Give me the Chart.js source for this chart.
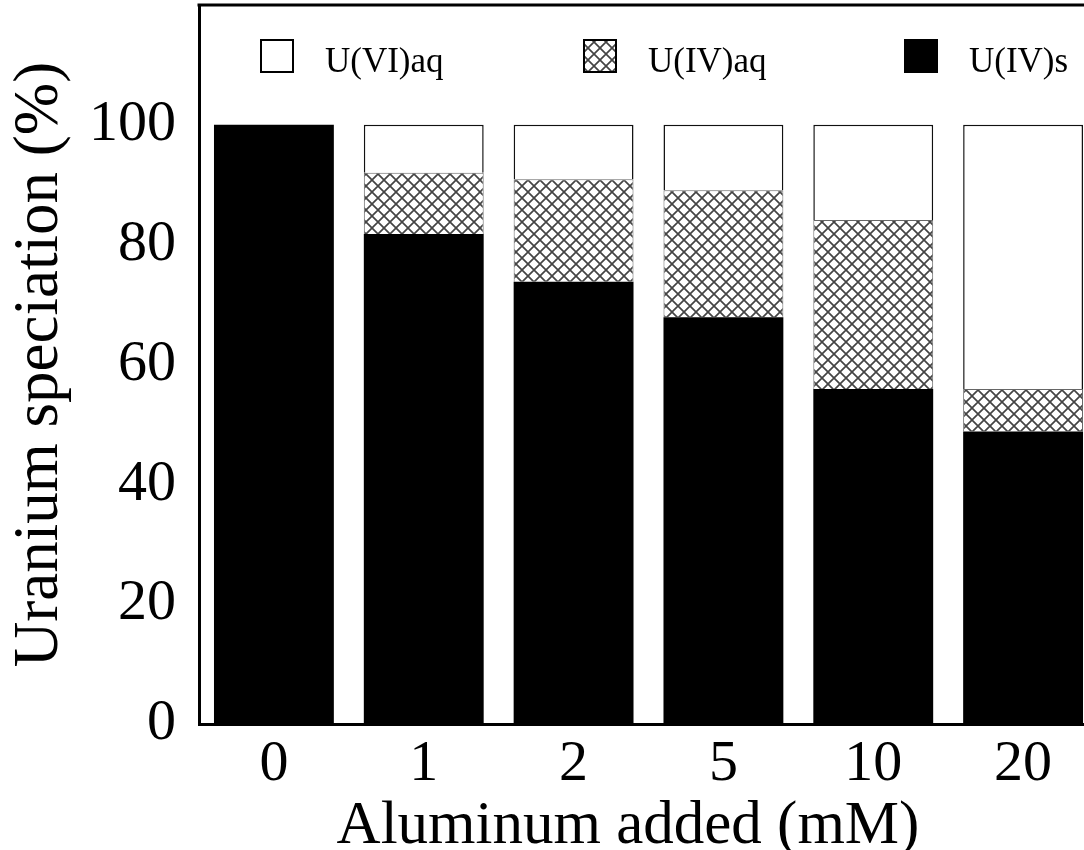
<!DOCTYPE html>
<html>
<head>
<meta charset="utf-8">
<script src="https://cdn.jsdelivr.net/npm/chart.js@4.4.1/dist/chart.umd.min.js"></script>
<style>
  html, body { margin: 0; padding: 0; background: #fff; overflow: hidden; }
  #wrap { width: 1100px; height: 850px; }
</style>
</head>
<body>
<div id="wrap"><canvas id="c" width="1100" height="850"></canvas></div>
<script>
// Aluminum added (mM) and uranium speciation (%) per treatment
const categories = ['0', '1', '2', '5', '10', '20'];
const uIVs  = [100, 81.8, 73.8, 67.9, 55.9, 48.8];
const uIVaq = [0, 10.2, 17.1, 21.2, 28.2, 7.1];
const uVIaq = [0, 8.0, 9.1, 10.9, 15.9, 44.1];
const yTicks = [0, 20, 40, 60, 80, 100];
const seriesNames = ['U(IV)s', 'U(IV)aq', 'U(VI)aq'];
const xTitle = 'Aluminum added (mM)';
const yTitle = 'Uranium speciation (%)';

const SERIF = '"Liberation Serif", "Times New Roman", serif';

// diagonal cross-hatch fill
function crossHatch() {
  const t = document.createElement('canvas');
  t.width = 12; t.height = 12;
  const g = t.getContext('2d');
  g.fillStyle = '#fff';
  g.fillRect(0, 0, 12, 12);
  g.strokeStyle = '#444';
  g.lineWidth = 1.7;
  g.beginPath();
  g.moveTo(0, 0); g.lineTo(12, 12);
  g.moveTo(12, 0); g.lineTo(0, 12);
  g.stroke();
  return g.createPattern(t, 'repeat');
}
const hatch = crossHatch();

// frame, in-plot legend and x-axis title
const decorations = {
  id: 'decorations',
  afterDraw(chart) {
    const { ctx, chartArea: a } = chart;
    ctx.save();
    ctx.strokeStyle = '#000';
    ctx.lineWidth = 3;
    ctx.beginPath();
    ctx.moveTo(a.left - 1.5, a.top);
    ctx.lineTo(a.right, a.top);
    ctx.lineTo(a.right, a.bottom);
    ctx.stroke();

    const offsets = [61, 384, 705];
    const ds = chart.data.datasets.slice().reverse();
    ds.forEach((d, i) => {
      const bx = a.left + offsets[i];
      const by = a.top + 34;
      const s = 34;
      ctx.fillStyle = d.backgroundColor;
      ctx.fillRect(bx, by, s, s);
      if (d.backgroundColor !== '#000') {
        ctx.lineWidth = 2;
        ctx.strokeStyle = '#000';
        ctx.strokeRect(bx + 1, by + 1, s - 2, s - 2);
      }
      ctx.fillStyle = '#000';
      ctx.font = '35px ' + SERIF;
      ctx.textAlign = 'left';
      ctx.textBaseline = 'alphabetic';
      ctx.fillText(d.label, bx + 65, a.top + 67);
    });

    ctx.font = '61px ' + SERIF;
    ctx.textAlign = 'center';
    ctx.textBaseline = 'alphabetic';
    ctx.fillStyle = '#000';
    ctx.fillText(xTitle, a.left + 429, a.bottom + 119);
    ctx.restore();
  }
};

function noScalePadding(s) {
  s.paddingTop = 0; s.paddingBottom = 0;
  s.paddingLeft = 0; s.paddingRight = 0;
}

new Chart(document.getElementById('c'), {
  type: 'bar',
  data: {
    labels: categories,
    datasets: [
      { label: seriesNames[0], data: uIVs, backgroundColor: '#000', borderWidth: 0 },
      { label: seriesNames[1], data: uIVaq, backgroundColor: hatch, borderColor: '#666',
        borderWidth: c => (c.raw ? 1 : 0) },
      { label: seriesNames[2], data: uVIaq, backgroundColor: '#fff', borderColor: '#111',
        borderWidth: c => (c.raw ? 1.5 : 0) }
    ]
  },
  options: {
    responsive: false,
    animation: false,
    devicePixelRatio: 1,
    layout: { padding: { top: 5, right: 2, left: 0, bottom: 0 } },
    datasets: { bar: { categoryPercentage: 1, barPercentage: 0.8 } },
    plugins: { legend: { display: false }, tooltip: { enabled: false } },
    scales: {
      x: {
        stacked: true,
        grid: { display: false, drawTicks: false },
        border: { display: true, color: '#000', width: 3 },
        ticks: { font: { family: SERIF, size: 58 }, color: '#000', padding: 6, maxRotation: 0 },
        afterFit: s => { s.height = 126; noScalePadding(s); }
      },
      y: {
        stacked: true,
        min: 0,
        max: 120,
        grid: { display: false, drawTicks: false },
        border: { display: true, color: '#000', width: 3 },
        afterBuildTicks: s => { s.ticks = yTicks.map(v => ({ value: v })); },
        ticks: { font: { family: SERIF, size: 58 }, color: '#000', padding: 23 },
        title: { display: true, text: yTitle, color: '#000',
                 font: { family: SERIF, size: 63 }, padding: { top: 3, bottom: 0 } },
        afterFit: s => { s.width = 199; noScalePadding(s); }
      }
    }
  },
  plugins: [decorations]
});
</script>
</body>
</html>
